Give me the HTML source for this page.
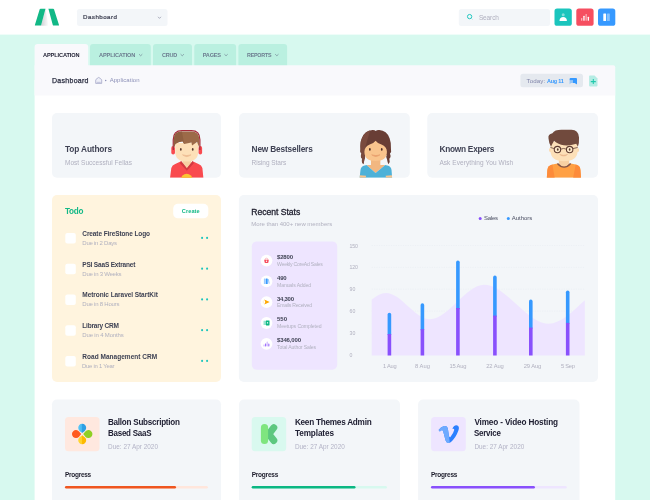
<!DOCTYPE html>
<html lang="en"><head><meta charset="utf-8"><title>Dashboard</title>
<style>
*{margin:0;padding:0;box-sizing:border-box}
html,body{width:650px;height:500px;overflow:hidden}
body{position:relative;background:#d7f9ef;font-family:"Liberation Sans",sans-serif}
svg.bg{position:absolute;left:0;top:0;display:block}
.tx{position:absolute;left:0;top:0;width:650px;height:500px;will-change:transform}
.t{position:absolute;white-space:nowrap;line-height:1;font-family:"Liberation Sans",sans-serif}

</style></head>
<body>
<svg class="bg" width="650" height="500" viewBox="0 0 650 500">
<rect x="0" y="0" width="650" height="34.6" fill="#fff"/>
<defs><linearGradient id="lg" x1="0" y1="0" x2="1" y2="0"><stop offset="0" stop-color="#9aa0a6" stop-opacity=".5"/><stop offset="1" stop-color="#9aa0a6" stop-opacity="0"/></linearGradient></defs>
<path d="M45.4 8.8 L48.6 25.7 L41 25.7 Z" fill="url(#lg)"/>
<path d="M40.6 8.7 H45.5 L41.2 25 Q41 25.6 40.3 25.6 H35.5 Q34.7 25.6 34.9 25 L39.7 9.3 Q39.9 8.7 40.6 8.7 Z" fill="#12b886"/>
<path d="M48.4 8.7 H53.1 Q53.8 8.7 54 9.3 L59 25 Q59.2 25.6 58.4 25.6 H53.7 Q53 25.6 52.8 25 Z" fill="#12b886"/>
<rect x="77" y="8.9" width="90.5" height="17" rx="2.5" fill="#f3f6f9"/>
<path d="M158 16.8 L159.5 18.4 L161 16.8" fill="none" stroke="#7e8299" stroke-width=".6"/>
<rect x="458.8" y="8.9" width="91.2" height="17" rx="2.5" fill="#f3f6f9"/>
<circle cx="469.6" cy="16.6" r="2.15" fill="none" stroke="#1bc5bd" stroke-width=".95"/><path d="M471.3 18.3 L472.6 19.6" stroke="#1bc5bd" stroke-width=".6" opacity=".5"/>
<rect x="554.5" y="8.5" width="17.3" height="17.3" rx="2.6" fill="#1bc5bd"/>
<rect x="576.3" y="8.5" width="17.3" height="17.3" rx="2.6" fill="#f64e60"/>
<rect x="598" y="8.5" width="17.3" height="17.3" rx="2.6" fill="#3699ff"/>
<g transform="translate(554.6 8.6)"><circle cx="8.6" cy="6.1" r="1.5" fill="#fff" opacity=".45"/><path d="M4.9 11.8 Q5.2 8.3 8.6 8.3 Q12 8.3 12.3 11.8 Q12.3 12.3 11.8 12.3 H5.4 Q4.9 12.3 4.9 11.8Z" fill="#fff"/></g>
<g transform="translate(576.4 8.6)"><rect x="4.6" y="9.3" width="1.3" height="2.8" rx=".5" fill="#fff" opacity=".55"/><rect x="6.9" y="7.2" width="1.3" height="4.9" rx=".5" fill="#fff"/><rect x="9.1" y="5.4" width="1.3" height="6.7" rx=".5" fill="#fff" opacity=".55"/><rect x="11.3" y="8.2" width="1.3" height="3.9" rx=".5" fill="#fff"/></g>
<g transform="translate(598 8.6)"><rect x="5.3" y="4.9" width="2.8" height="7.4" rx=".5" fill="#fff"/><rect x="9" y="4.9" width="2.8" height="7.4" rx=".5" fill="#fff" opacity=".4"/></g>
<path d="M34.6 70 V47 Q34.6 44 37.6 44 H85.2 Q88.2 44 88.2 47 V70Z" fill="#f9f9fc"/>
<path d="M90 70 V47 Q90 44 93 44 H147.8 Q150.8 44 150.8 47 V70Z" fill="#baf0e0"/>
<path d="M153 70 V47 Q153 44 156 44 H189 Q192 44 192 47 V70Z" fill="#baf0e0"/>
<path d="M194.3 70 V47 Q194.3 44 197.3 44 H233.1 Q236.1 44 236.1 47 V70Z" fill="#baf0e0"/>
<path d="M238.4 70 V47 Q238.4 44 241.4 44 H284.1 Q287.1 44 287.1 47 V70Z" fill="#baf0e0"/>
<g fill="none" stroke="#6b7b8e" stroke-width=".65"><path d="M139 54.2 l1.65 1.6 l1.65 -1.6"/><path d="M180.6 54.2 l1.65 1.6 l1.65 -1.6"/><path d="M224.4 54.2 l1.65 1.6 l1.65 -1.6"/><path d="M275.2 54.2 l1.65 1.6 l1.65 -1.6"/></g>
<rect x="34.6" y="80" width="580.6" height="430" fill="#fff"/>
<path d="M34.6 65.2 H613.2 Q615.2 65.2 615.2 67.2 V95.5 H34.6Z" fill="#f9f9fc"/>
<g transform="translate(95.2 76.9)"><path d="M.5 6.5 V3.2 Q.5 2.8 .8 2.5 L3.1 .7 Q3.5 .4 3.9 .7 L6.2 2.5 Q6.5 2.8 6.5 3.2 V6.5 Z" fill="#eeeff8" stroke="#9498bd" stroke-width=".65" stroke-linejoin="round"/><path d="M1.5 4.9 H5.5 V6.1 H1.5Z" fill="#c5c7de"/></g>
<circle cx="105.7" cy="80.6" r=".75" fill="#8d91b8"/>
<rect x="520.4" y="73.7" width="62.6" height="13.5" rx="2.5" fill="#e5e9ef"/>
<g transform="translate(569 77.5)"><path d="M1.6 .6 H7 Q8 .6 8 1.6 V6.2 Q8 7 7.2 6.6 L5.6 5.6 H4 V3 H.6 V1.6 Q.6 .6 1.6 .6Z" fill="#3699ff"/><path d="M.6 3.4 H4.2 V5.6 H2 L.9 6.6 Q.6 6.8 .6 6.4Z" fill="#3699ff" opacity=".45"/></g>
<g transform="translate(588.9 75.6)"><path d="M1 0 H5.6 L8.6 3 V10 Q8.6 10.8 7.8 10.8 H1 Q.2 10.8 .2 10 V.8 Q.2 0 1 0Z" fill="#b5ece4"/><path d="M4.4 3.5 V8.5 M1.9 6 H6.9" stroke="#20c9ac" stroke-width="1.05"/></g>
<rect x="52" y="113" width="169" height="64.8" rx="5" fill="#f3f6f9"/>
<rect x="239" y="113" width="170.8" height="64.8" rx="5" fill="#f3f6f9"/>
<rect x="427.3" y="113" width="170.7" height="64.8" rx="5" fill="#f3f6f9"/>
<!-- boy 1 -->
<svg x="150" y="115" width="80" height="70" viewBox="0 0 571 500">
 <clipPath id="c1"><rect x="0" y="0" width="571" height="448"/></clipPath>
 <g clip-path="url(#c1)">
  <path d="M232 300 H294 V372 L263 400 L232 372Z" fill="#f7d0a3"/>
  <path d="M143 448 L152 378 Q158 356 180 350 L222 330 L263 382 L304 330 L346 350 Q368 356 374 378 L381 448Z" fill="#f94a4f"/>
  <path d="M222 328 L213 344 L263 398 L313 344 L304 328 L263 380Z" fill="#d23a42"/>
  <circle cx="262" cy="462" r="42" fill="#fbc531"/>
  <rect x="152" y="222" width="26" height="60" rx="13" fill="#f94a4f"/>
  <rect x="346" y="222" width="26" height="60" rx="13" fill="#f94a4f"/>
  <path d="M180 200 H344 V262 Q344 332 262 332 Q180 332 180 262Z" fill="#fde0b8"/>
  <path d="M166 250 V176 Q166 111 228 111 H296 Q356 111 356 176 V250" fill="none" stroke="#a62c3a" stroke-width="9"/>
  <path d="M170 234 V176 Q170 118 228 118 H296 Q352 118 352 176 V234 L336 192 L300 218 L296 196 L244 208 L232 188 Q200 192 182 206Z" fill="#9c6a48"/>
  <path d="M170 234 V176 Q170 118 228 118 L244 208 L232 188 Q200 192 182 206Z" fill="#8f5f40"/>
  <ellipse cx="220" cy="246" rx="6" ry="10" fill="#5a3a2e"/>
  <ellipse cx="305" cy="246" rx="6" ry="10" fill="#5a3a2e"/>
  <path d="M232 284 Q262 310 293 284 Q262 296 232 284Z" fill="#e9b58c" stroke="#e9b58c" stroke-width="4" stroke-linejoin="round"/>
 </g>
</svg>
<!-- girl -->
<svg x="340" y="115" width="80" height="70" viewBox="0 0 571 500">
 <clipPath id="c2"><rect x="0" y="0" width="571" height="448"/></clipPath>
 <clipPath id="c2h"><path id="gh" d="M146 244 Q142 196 156 166 Q178 110 232 107 Q248 106 255 115 Q262 106 280 107 Q334 110 354 166 Q366 196 364 244 Q370 262 356 276 Q368 296 352 312 Q360 332 346 352 Q338 336 336 318 Q326 300 332 286 L178 286 Q184 300 174 318 Q172 336 166 352 Q150 332 158 312 Q142 296 154 276 Q140 262 146 244Z"/></clipPath>
 <g clip-path="url(#c2)">
  <use href="#gh" fill="#693e35"/>
  <path d="M0 0 H250 Q204 140 176 250 L182 400 H0Z" fill="#7a4a3e" clip-path="url(#c2h)"/>
  <path d="M221 300 H288 V362 H221Z" fill="#f2b781"/><path d="M189 357 L323 357 L254 414Z" fill="#f2b781"/>
  <path d="M140 448 L146 392 Q150 366 176 360 L189 357 L254 414 L323 357 L338 360 Q364 366 368 392 L372 448Z" fill="#4db1d8"/>
  <path d="M140 448 L142 430 L186 434 L184 448Z" fill="#f9c48d"/>
  <path d="M372 448 L370 430 L326 434 L328 448Z" fill="#f9c48d"/>
  <path d="M174 262 Q174 226 212 210 Q244 200 254 184 Q264 200 296 210 Q335 226 335 262 Q335 328 254 328 Q174 328 174 262Z" fill="#f9c48d"/>
  <ellipse cx="213" cy="246" rx="6" ry="10" fill="#4e2f28"/>
  <ellipse cx="298" cy="246" rx="6" ry="10" fill="#4e2f28"/>
  <path d="M226 284 Q256 308 286 284 Q256 296 226 284Z" fill="#e59a6a" stroke="#e59a6a" stroke-width="4" stroke-linejoin="round"/>
 </g>
</svg>
<!-- boy 2 -->
<svg x="530" y="115" width="80" height="70" viewBox="0 0 571 500">
 <clipPath id="c3"><rect x="0" y="0" width="571" height="448"/></clipPath>
 <g clip-path="url(#c3)">
  <path d="M206 300 H280 V372 H206Z" fill="#f7d0a3"/>
  <path d="M120 448 L124 392 Q128 360 160 354 L196 346 Q243 392 290 346 L326 354 Q358 360 360 392 L364 448Z" fill="#ffa044"/>
  <path d="M120 448 L124 392 Q128 360 160 354 L176 448Z" fill="#fd8b3a"/>
  <path d="M364 448 L360 392 Q358 360 326 354 L308 448Z" fill="#fd8b3a"/>
  <path d="M196 346 Q243 398 290 346" fill="none" stroke="#85574a" stroke-width="9.5"/>
  <ellipse cx="145" cy="250" rx="9" ry="15" fill="#fcd9ac"/>
  <ellipse cx="341" cy="250" rx="9" ry="15" fill="#fcd9ac"/>
  <path d="M146 190 H340 V256 Q340 330 243 330 Q146 330 146 256Z" fill="#fde0b8"/>
  <path d="M132 168 Q126 136 160 130 Q176 104 232 106 H296 Q346 108 350 160 Q352 200 342 226 L330 206 Q268 226 222 212 Q184 200 172 184 Q160 204 150 226 Q134 200 132 168Z" fill="#714a3d"/>
  <circle cx="196" cy="247" r="23" fill="#fde9c9" stroke="#5f3c32" stroke-width="7.5"/>
  <circle cx="283" cy="247" r="23" fill="#fde9c9" stroke="#5f3c32" stroke-width="7.5"/>
  <path d="M219 244 Q240 234 260 244 M173 240 L146 232 M306 240 L340 232" fill="none" stroke="#5f3c32" stroke-width="5.5"/>
  <ellipse cx="198" cy="247" rx="6" ry="9" fill="#5a3a2e"/>
  <ellipse cx="283" cy="247" rx="6" ry="9" fill="#5a3a2e"/>
  <path d="M212 282 Q240 304 268 282 Q240 292 212 282Z" fill="#e9b58c" stroke="#e9b58c" stroke-width="4" stroke-linejoin="round"/>
 </g>
</svg>

<rect x="52" y="195" width="169" height="187" rx="5" fill="#fff4de"/>
<rect x="173.2" y="203.8" width="35.1" height="14.5" rx="4.6" fill="#fff"/>
<rect x="65.3" y="233" width="10.5" height="10.5" rx="2" fill="#fff"/>
<circle cx="202.1" cy="237.9" r="1.05" fill="#1bc5bd"/><circle cx="207.1" cy="237.9" r="1.05" fill="#1bc5bd"/>
<rect x="65.3" y="263.75" width="10.5" height="10.5" rx="2" fill="#fff"/>
<circle cx="202.1" cy="268.65" r="1.05" fill="#1bc5bd"/><circle cx="207.1" cy="268.65" r="1.05" fill="#1bc5bd"/>
<rect x="65.3" y="294.5" width="10.5" height="10.5" rx="2" fill="#fff"/>
<circle cx="202.1" cy="299.4" r="1.05" fill="#1bc5bd"/><circle cx="207.1" cy="299.4" r="1.05" fill="#1bc5bd"/>
<rect x="65.3" y="325.25" width="10.5" height="10.5" rx="2" fill="#fff"/>
<circle cx="202.1" cy="330.15" r="1.05" fill="#1bc5bd"/><circle cx="207.1" cy="330.15" r="1.05" fill="#1bc5bd"/>
<rect x="65.3" y="356" width="10.5" height="10.5" rx="2" fill="#fff"/>
<circle cx="202.1" cy="360.9" r="1.05" fill="#1bc5bd"/><circle cx="207.1" cy="360.9" r="1.05" fill="#1bc5bd"/>
<rect x="238.9" y="195" width="359.1" height="187" rx="5" fill="#f3f6f9"/>
<rect x="251.8" y="241.4" width="85.4" height="128.3" rx="5" fill="#eee5ff"/>
<circle cx="266.5" cy="260.6" r="5.9" fill="#fff"/>
<circle cx="266.5" cy="281.4" r="5.9" fill="#fff"/>
<circle cx="266.5" cy="302.2" r="5.9" fill="#fff"/>
<circle cx="266.5" cy="323" r="5.9" fill="#fff"/>
<circle cx="266.5" cy="343.8" r="5.9" fill="#fff"/>
<!-- stat icons: each in 12x12 circle at left 260.5 -->
<svg x="260.5" y="254.4" width="12" height="12" viewBox="0 0 12 12"><g transform="translate(6 6.2) scale(.8) translate(-6 -6.2)"><path d="M3.1 5.2 H8.9 L8.3 8.6 Q8.2 9.1 7.7 9.1 H4.3 Q3.8 9.1 3.7 8.6Z" fill="#f64e60"/><path d="M4.3 5.2 Q4.3 3.2 6 3.2 Q7.7 3.2 7.7 5.2" fill="none" stroke="#f64e60" stroke-width=".8" opacity=".55"/><circle cx="6" cy="7" r=".8" fill="#fff"/></g></svg>
<svg x="260.5" y="275.2" width="12" height="12" viewBox="0 0 12 12"><rect x="3.4" y="3.4" width="1.8" height="5.4" rx=".3" fill="#3699ff" opacity=".5"/><rect x="5.4" y="3.4" width="1.8" height="5.4" rx=".3" fill="#3699ff"/><path d="M7.3 4 L8.3 3.8 L9.2 8.3 L8.2 8.6Z" fill="#3699ff" opacity=".5"/></svg>
<svg x="260.5" y="296" width="12" height="12" viewBox="0 0 12 12"><path d="M3.8 3.4 L9.2 6 L3.8 8.6 L4.8 6Z" fill="#ffa800"/><path d="M3 4.6 Q2.4 6 3 7.4" fill="none" stroke="#ffa800" stroke-width=".5" opacity=".4"/></svg>
<svg x="260.5" y="316.8" width="12" height="12" viewBox="0 0 12 12"><rect x="3" y="3.9" width="3" height="4.4" rx=".4" fill="#1bc59a" opacity=".45"/><rect x="5.4" y="3.6" width="3.6" height="5" rx=".4" fill="#0bb783"/><rect x="6.4" y="5.2" width="1.2" height="1.6" fill="#fff" opacity=".8"/></svg>
<svg x="260.5" y="337.6" width="12" height="12" viewBox="0 0 12 12"><rect x="2.9" y="6.8" width="1.2" height="2" rx=".4" fill="#8950fc" opacity=".4"/><rect x="4.5" y="5.8" width="1.2" height="3" rx=".4" fill="#8950fc" opacity=".8"/><rect x="6.1" y="4" width="1.2" height="4.8" rx=".4" fill="#8950fc" opacity=".4"/><rect x="7.7" y="6" width="1.2" height="2.8" rx=".4" fill="#8950fc" opacity=".8"/></svg>

<g stroke="#e7ebf0" stroke-width=".5" stroke-dasharray="1.2 1.2"><path d="M371.7 245.5H584.8M371.7 267.4H584.8M371.7 289.2H584.8M371.7 311.1H584.8M371.7 333H584.8"/></g>
<path d="M371.7 299.6 C376 296 381 292.9 386 292.9 C401 292.9 415 319.2 430 319.2 C448 319.2 466 284.8 484 284.8 C506 284.8 527 323.7 548.4 323.7 C561 323.7 573 311 584.8 300.2 L584.8 355.5 L371.7 355.5 Z" fill="#eee5ff"/>
<rect x="387.6" y="312.7" width="3.6" height="23.3" rx="1.8" fill="#3699ff"/><rect x="387.6" y="334" width="3.6" height="21.5" fill="#8950fc"/>
<rect x="420.6" y="303.2" width="3.6" height="28" rx="1.8" fill="#3699ff"/><rect x="420.6" y="329.2" width="3.6" height="26.3" fill="#8950fc"/>
<rect x="456.1" y="260.4" width="3.6" height="49.6" rx="1.8" fill="#3699ff"/><rect x="456.1" y="308" width="3.6" height="47.5" fill="#8950fc"/>
<rect x="493.1" y="275.6" width="3.6" height="42" rx="1.8" fill="#3699ff"/><rect x="493.1" y="315.6" width="3.6" height="39.9" fill="#8950fc"/>
<rect x="529" y="299.6" width="3.6" height="30" rx="1.8" fill="#3699ff"/><rect x="529" y="327.6" width="3.6" height="27.9" fill="#8950fc"/>
<rect x="565.9" y="290.4" width="3.6" height="34.5" rx="1.8" fill="#3699ff"/><rect x="565.9" y="322.9" width="3.6" height="32.6" fill="#8950fc"/>
<circle cx="480.2" cy="218.4" r="1.5" fill="#8950fc"/><circle cx="508.3" cy="218.4" r="1.5" fill="#3699ff"/>
<rect x="52" y="399.5" width="169" height="110" rx="5" fill="#f3f6f9"/>
<rect x="239" y="399.5" width="161" height="110" rx="5" fill="#f3f6f9"/>
<rect x="418.1" y="399.5" width="161.4" height="110" rx="5" fill="#f3f6f9"/>
<rect x="65" y="417" width="34.5" height="34.2" rx="3.5" fill="#ffe8df"/>
<rect x="251.7" y="417" width="34.5" height="34.2" rx="3.5" fill="#d9f9ef"/>
<rect x="431.1" y="417" width="34.7" height="34.2" rx="3.5" fill="#eee5ff"/>
<!-- petals -->
<svg x="65" y="417" width="34.5" height="34.3" viewBox="65 417 34.5 34.3">
 <defs>
  <linearGradient id="gb" x1="0" y1="0" x2="1" y2="0"><stop offset="0" stop-color="#5cc8f8"/><stop offset=".5" stop-color="#45b6f0"/><stop offset=".5" stop-color="#2f9fe4"/><stop offset="1" stop-color="#2f9fe4"/></linearGradient>
  <linearGradient id="gy" x1="0" y1="0" x2="1" y2="0"><stop offset="0" stop-color="#ffd633"/><stop offset=".5" stop-color="#ffd02a"/><stop offset=".5" stop-color="#fdb900"/><stop offset="1" stop-color="#fdb900"/></linearGradient>
 </defs>
 <g transform="translate(82.2 434.1)">
  <path d="M0 -1.05 L-2.56 -3.17 A4 4 0 1 1 2.56 -3.17 Z" fill="url(#gb)"/>
  <path d="M0 -1.05 L-2.56 -3.17 A4 4 0 1 1 2.56 -3.17 Z" fill="#8fd025" transform="rotate(90)"/>
  <path d="M0 1.05 L-2.56 3.17 A4 4 0 1 0 2.56 3.17 Z" fill="url(#gy)"/>
  <path d="M0 -1.05 L-2.56 -3.17 A4 4 0 1 1 2.56 -3.17 Z" fill="#ff5a1f" transform="rotate(-90)"/>
 </g>
</svg>
<!-- K -->
<svg x="251.7" y="417" width="34.5" height="34.3" viewBox="251.7 417 34.5 34.3">
 <path d="M273.8 427.7 L268.8 434.1 L273.8 440.5" fill="none" stroke="#5cc87f" stroke-width="7" stroke-linecap="round" stroke-linejoin="round"/>
 <rect x="260.9" y="424.1" width="7.2" height="20" rx="3.6" fill="#7fe57f"/>
</svg>
<!-- vimeo -->
<svg x="431" y="417" width="34.8" height="34.3" viewBox="431 417 34.8 34.3">
 <path d="M438.6 430 Q441 426.6 444.4 426 Q447.4 425.6 448 429.4 L448.8 435 Q449.4 438 450.4 437 Q453.6 433 454.2 430 Q454.4 428.4 452.4 429 Q453.8 424.6 457.4 425.4 Q459.8 426.2 458.4 430.6 Q456 437.6 451 442 Q447.4 444.6 445.6 440.4 L443.2 431.6 Q442.6 429.6 441.6 430.2 L439.8 431.4Z" fill="#2b80ff"/>
 <path d="M438.6 430 Q441 426.6 444.4 426 Q447.4 425.6 448 429.4 L448.8 435 L449.8 442.8 Q447 444 445.6 440.4 L443.2 431.6 Q442.6 429.6 441.6 430.2 L439.8 431.4Z" fill="#6eaaff"/>
</svg>

<rect x="65" y="485.95" width="142.8" height="2.5" rx="1.25" fill="#ffe6dc"/>
<rect x="65" y="485.95" width="111" height="2.5" rx="1.25" fill="#ef5620"/>
<rect x="251.7" y="485.95" width="135.2" height="2.5" rx="1.25" fill="#d7f9ef"/>
<rect x="251.7" y="485.95" width="103.8" height="2.5" rx="1.25" fill="#0bb783"/>
<rect x="431" y="485.95" width="135.7" height="2.5" rx="1.25" fill="#eee5ff"/>
<rect x="431" y="485.95" width="103.9" height="2.5" rx="1.25" fill="#8950fc"/>
</svg>

<div class="tx">
<span class="t" id="t0" style="left:83.00px;top:14.00px;font-size:6.2px;font-weight:400;color:#3f4254;letter-spacing:0.465px;-webkit-text-stroke:0.22px #3f4254;">Dashboard</span>
<span class="t" id="t1" style="left:478.90px;top:15.00px;font-size:6.5px;font-weight:400;color:#b0b0bf;letter-spacing:-0.122px;">Search</span>
<span class="t" id="t2" style="left:43.00px;top:53.00px;font-size:5.6px;font-weight:700;color:#212134;letter-spacing:-0.100px;">APPLICATION</span>
<span class="t" id="t3" style="left:99.00px;top:53.00px;font-size:5.6px;font-weight:700;color:#6b7b8e;letter-spacing:-0.110px;">APPLICATION</span>
<span class="t" id="t4" style="left:162.00px;top:53.00px;font-size:5.6px;font-weight:700;color:#6b7b8e;letter-spacing:-0.250px;transform:scaleX(0.986);transform-origin:0 50%;">CRUD</span>
<span class="t" id="t5" style="left:202.80px;top:53.00px;font-size:5.6px;font-weight:700;color:#6b7b8e;letter-spacing:-0.250px;">PAGES</span>
<span class="t" id="t6" style="left:247.00px;top:53.00px;font-size:5.6px;font-weight:700;color:#6b7b8e;letter-spacing:-0.250px;transform:scaleX(0.963);transform-origin:0 50%;">REPORTS</span>
<span class="t" id="t7" style="left:52.00px;top:77.00px;font-size:7px;font-weight:400;color:#2a2d40;letter-spacing:0.281px;-webkit-text-stroke:0.25px #2a2d40;">Dashboard</span>
<span class="t" id="t8" style="left:109.70px;top:77.00px;font-size:6px;font-weight:400;color:#8d91b8;letter-spacing:0.044px;">Application</span>
<span class="t" id="t9" style="left:526.60px;top:78.00px;font-size:6.2px;font-weight:400;color:#8185aa;letter-spacing:0.073px;">Today:</span>
<span class="t" id="t10" style="left:547.00px;top:78.00px;font-size:6.2px;font-weight:700;color:#3699ff;letter-spacing:-0.250px;transform:scaleX(0.882);transform-origin:0 50%;">Aug 11</span>
<span class="t" id="t11" style="left:65.00px;top:145.00px;font-size:8.3px;font-weight:700;color:#3f4254;letter-spacing:-0.139px;">Top Authors</span>
<span class="t" id="t12" style="left:65.00px;top:160.00px;font-size:6.5px;font-weight:400;color:#b0b0bf;letter-spacing:0.025px;">Most Successful Fellas</span>
<span class="t" id="t13" style="left:251.60px;top:145.00px;font-size:8.3px;font-weight:700;color:#3f4254;letter-spacing:-0.175px;">New Bestsellers</span>
<span class="t" id="t14" style="left:251.60px;top:160.00px;font-size:6.5px;font-weight:400;color:#b0b0bf;letter-spacing:-0.032px;">Rising Stars</span>
<span class="t" id="t15" style="left:439.40px;top:145.00px;font-size:8.3px;font-weight:700;color:#3f4254;letter-spacing:-0.249px;">Known Expers</span>
<span class="t" id="t16" style="left:439.40px;top:160.00px;font-size:6.5px;font-weight:400;color:#b0b0bf;letter-spacing:0.070px;">Ask Everything You Wish</span>
<span class="t" id="t17" style="left:65.00px;top:208.00px;font-size:8.2px;font-weight:700;color:#12b886;letter-spacing:-0.250px;transform:scaleX(0.992);transform-origin:0 50%;">Todo</span>
<span class="t" id="t18" style="left:181.80px;top:209.00px;font-size:5.6px;font-weight:700;color:#12b886;letter-spacing:0.096px;">Create</span>
<span class="t" id="t19" style="left:82.30px;top:231.00px;font-size:6.5px;font-weight:700;color:#3f4254;letter-spacing:-0.101px;">Create FireStone Logo</span>
<span class="t" id="t20" style="left:82.30px;top:240.00px;font-size:6px;font-weight:400;color:#b0b0bf;letter-spacing:-0.249px;">Due in 2 Days</span>
<span class="t" id="t21" style="left:82.30px;top:262.00px;font-size:6.5px;font-weight:700;color:#3f4254;letter-spacing:-0.181px;">PSI SaaS Extranet</span>
<span class="t" id="t22" style="left:82.30px;top:271.00px;font-size:6px;font-weight:400;color:#b0b0bf;letter-spacing:-0.235px;">Due in 3 Weeks</span>
<span class="t" id="t23" style="left:82.30px;top:292.00px;font-size:6.5px;font-weight:700;color:#3f4254;letter-spacing:-0.060px;">Metronic Laravel StartKit</span>
<span class="t" id="t24" style="left:82.30px;top:301.00px;font-size:6px;font-weight:400;color:#b0b0bf;letter-spacing:-0.225px;">Due in 8 Hours</span>
<span class="t" id="t25" style="left:82.30px;top:323.00px;font-size:6.5px;font-weight:700;color:#3f4254;letter-spacing:-0.196px;">Library CRM</span>
<span class="t" id="t26" style="left:82.30px;top:332.00px;font-size:6px;font-weight:400;color:#b0b0bf;letter-spacing:-0.165px;">Due in 4 Months</span>
<span class="t" id="t27" style="left:82.30px;top:354.00px;font-size:6.5px;font-weight:700;color:#3f4254;letter-spacing:0.027px;">Road Management CRM</span>
<span class="t" id="t28" style="left:82.30px;top:363.00px;font-size:6px;font-weight:400;color:#b0b0bf;letter-spacing:-0.250px;transform:scaleX(0.984);transform-origin:0 50%;">Due in 1 Year</span>
<span class="t" id="t29" style="left:251.30px;top:208.00px;font-size:8.6px;font-weight:400;color:#1e1e2d;letter-spacing:-0.028px;-webkit-text-stroke:0.3px #1e1e2d;">Recent Stats</span>
<span class="t" id="t30" style="left:251.30px;top:221.00px;font-size:6px;font-weight:400;color:#b0b0bf;letter-spacing:-0.026px;">More than 400+ new members</span>
<span class="t" id="t31" style="left:277.00px;top:254.00px;font-size:6px;font-weight:700;color:#3f4254;letter-spacing:-0.172px;">$2800</span>
<span class="t" id="t32" style="left:277.00px;top:262.00px;font-size:5.1px;font-weight:400;color:#b0b0bf;letter-spacing:-0.203px;">Weekly CoreAd Sales</span>
<span class="t" id="t33" style="left:277.00px;top:275.00px;font-size:6px;font-weight:700;color:#3f4254;letter-spacing:-0.158px;">490</span>
<span class="t" id="t34" style="left:277.00px;top:283.00px;font-size:5.1px;font-weight:400;color:#b0b0bf;letter-spacing:-0.094px;">Manuals Added</span>
<span class="t" id="t35" style="left:277.00px;top:296.00px;font-size:6px;font-weight:700;color:#3f4254;letter-spacing:-0.250px;transform:scaleX(0.994);transform-origin:0 50%;">34,300</span>
<span class="t" id="t36" style="left:277.00px;top:303.00px;font-size:5.1px;font-weight:400;color:#b0b0bf;letter-spacing:-0.210px;">Emails Received</span>
<span class="t" id="t37" style="left:277.00px;top:316.00px;font-size:6px;font-weight:700;color:#3f4254;letter-spacing:-0.008px;">550</span>
<span class="t" id="t38" style="left:277.00px;top:324.00px;font-size:5.1px;font-weight:400;color:#b0b0bf;letter-spacing:-0.068px;">Meetups Completed</span>
<span class="t" id="t39" style="left:277.00px;top:337.00px;font-size:6px;font-weight:700;color:#3f4254;letter-spacing:-0.147px;">$346,000</span>
<span class="t" id="t40" style="left:277.00px;top:345.00px;font-size:5.1px;font-weight:400;color:#b0b0bf;letter-spacing:-0.121px;">Total Author Sales</span>
<span class="t" id="t41" style="left:484.00px;top:215.00px;font-size:6px;font-weight:400;color:#4b4f63;letter-spacing:-0.250px;">Sales</span>
<span class="t" id="t42" style="left:511.70px;top:215.00px;font-size:6px;font-weight:400;color:#4b4f63;letter-spacing:-0.015px;">Authors</span>
<span class="t" id="t43" style="left:349.50px;top:244.00px;font-size:5.2px;font-weight:400;color:#b0b0bf;letter-spacing:-0.078px;">150</span>
<span class="t" id="t44" style="left:349.50px;top:265.00px;font-size:5.2px;font-weight:400;color:#b0b0bf;letter-spacing:-0.078px;">120</span>
<span class="t" id="t45" style="left:349.50px;top:287.00px;font-size:5.2px;font-weight:400;color:#b0b0bf;letter-spacing:0.219px;">90</span>
<span class="t" id="t46" style="left:349.50px;top:309.00px;font-size:5.2px;font-weight:400;color:#b0b0bf;letter-spacing:0.219px;">60</span>
<span class="t" id="t47" style="left:349.50px;top:331.00px;font-size:5.2px;font-weight:400;color:#b0b0bf;letter-spacing:0.219px;">30</span>
<span class="t" id="t48" style="left:349.50px;top:353.00px;font-size:5.2px;font-weight:400;color:#b0b0bf;letter-spacing:0.309px;">0</span>
<span class="t" id="t49" style="left:382.60px;top:364.00px;font-size:5.8px;font-weight:400;color:#b0b0bf;letter-spacing:-0.250px;transform:scaleX(0.982);transform-origin:0 50%;">1 Aug</span>
<span class="t" id="t50" style="left:415.05px;top:364.00px;font-size:5.8px;font-weight:400;color:#b0b0bf;letter-spacing:0.014px;">8 Aug</span>
<span class="t" id="t51" style="left:449.40px;top:364.00px;font-size:5.8px;font-weight:400;color:#b0b0bf;letter-spacing:-0.212px;">15 Aug</span>
<span class="t" id="t52" style="left:486.25px;top:364.00px;font-size:5.8px;font-weight:400;color:#b0b0bf;letter-spacing:-0.113px;">22 Aug</span>
<span class="t" id="t53" style="left:523.70px;top:364.00px;font-size:5.8px;font-weight:400;color:#b0b0bf;letter-spacing:-0.093px;">29 Aug</span>
<span class="t" id="t54" style="left:560.80px;top:364.00px;font-size:5.8px;font-weight:400;color:#b0b0bf;letter-spacing:-0.250px;transform:scaleX(0.989);transform-origin:0 50%;">5 Sep</span>
<span class="t" id="t55" style="left:108.10px;top:419.00px;font-size:8.2px;font-weight:700;color:#212134;letter-spacing:-0.250px;transform:scaleX(0.988);transform-origin:0 50%;">Ballon Subscription</span>
<span class="t" id="t56" style="left:108.10px;top:430.00px;font-size:8.2px;font-weight:700;color:#212134;letter-spacing:-0.250px;transform:scaleX(0.974);transform-origin:0 50%;">Based SaaS</span>
<span class="t" id="t57" style="left:108.10px;top:444.00px;font-size:6.4px;font-weight:400;color:#b3b3c6;letter-spacing:0.010px;">Due: 27 Apr 2020</span>
<span class="t" id="t58" style="left:65.00px;top:472.00px;font-size:6.5px;font-weight:700;color:#1e1e2d;letter-spacing:-0.250px;transform:scaleX(0.991);transform-origin:0 50%;">Progress</span>
<span class="t" id="t59" style="left:294.90px;top:419.00px;font-size:8.2px;font-weight:700;color:#212134;letter-spacing:-0.243px;">Keen Themes Admin</span>
<span class="t" id="t60" style="left:294.90px;top:430.00px;font-size:8.2px;font-weight:700;color:#212134;letter-spacing:-0.099px;">Templates</span>
<span class="t" id="t61" style="left:294.90px;top:444.00px;font-size:6.4px;font-weight:400;color:#b3b3c6;letter-spacing:0.010px;">Due: 27 Apr 2020</span>
<span class="t" id="t62" style="left:251.70px;top:472.00px;font-size:6.5px;font-weight:700;color:#1e1e2d;letter-spacing:-0.227px;">Progress</span>
<span class="t" id="t63" style="left:474.40px;top:419.00px;font-size:8.2px;font-weight:700;color:#212134;letter-spacing:-0.150px;">Vimeo - Video Hosting</span>
<span class="t" id="t64" style="left:474.40px;top:430.00px;font-size:8.2px;font-weight:700;color:#212134;letter-spacing:-0.250px;transform:scaleX(0.970);transform-origin:0 50%;">Service</span>
<span class="t" id="t65" style="left:474.40px;top:444.00px;font-size:6.4px;font-weight:400;color:#b3b3c6;letter-spacing:0.010px;">Due: 27 Apr 2020</span>
<span class="t" id="t66" style="left:431.00px;top:472.00px;font-size:6.5px;font-weight:700;color:#1e1e2d;letter-spacing:-0.250px;">Progress</span>
</div>
</body></html>
